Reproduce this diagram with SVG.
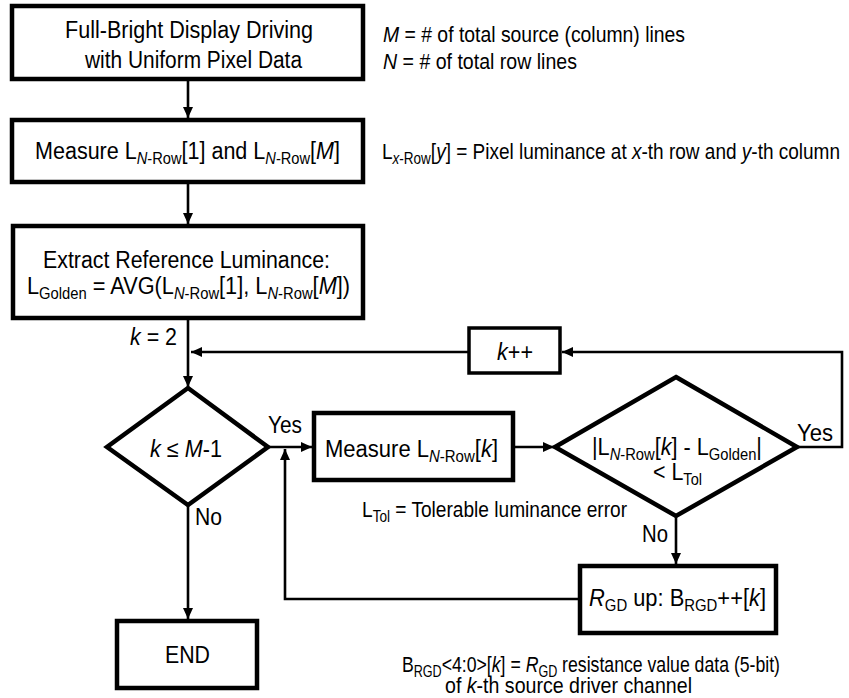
<svg xmlns="http://www.w3.org/2000/svg" width="849" height="698" viewBox="0 0 849 698">
<defs>
<style>
text{font-family:"Liberation Sans",Arial,sans-serif;font-size:23.5px;fill:#000}
.n{font-size:22.5px}
.s{font-size:16px}
.i{font-style:italic}
.box{fill:#fff;stroke:#000;stroke-width:4.5}
.thin{fill:#fff;stroke:#000;stroke-width:3.5}
.c{fill:none;stroke:#000;stroke-width:2.6}
</style>
<marker id="ah" markerUnits="userSpaceOnUse" markerWidth="12" markerHeight="10" refX="11" refY="5" orient="auto">
<path d="M0,0 L11,5 L0,10 Z" fill="#000"/>
</marker>
</defs>
<rect width="849" height="698" fill="#fff"/>

<g id="connectors">
<line class="c" x1="188" y1="80" x2="188" y2="118" marker-end="url(#ah)"/>
<line class="c" x1="188" y1="183" x2="188" y2="224" marker-end="url(#ah)"/>
<line class="c" x1="188" y1="319" x2="188" y2="387" marker-end="url(#ah)"/>
<line class="c" x1="469" y1="352" x2="191" y2="352" marker-end="url(#ah)"/>
<path class="c" d="M797,447 H842 V352 H562" marker-end="url(#ah)"/>
<line class="c" x1="268" y1="447" x2="312" y2="447" marker-end="url(#ah)"/>
<line class="c" x1="513" y1="447" x2="554" y2="447" marker-end="url(#ah)"/>
<line class="c" x1="676" y1="516" x2="676" y2="564" marker-end="url(#ah)"/>
<path class="c" d="M580,599 H285 V449" marker-end="url(#ah)"/>
<line class="c" x1="188" y1="505" x2="188" y2="619" marker-end="url(#ah)"/>
</g>

<g id="n_start">
<rect class="box" x="12" y="6" width="351" height="73"/>
<text x="65" y="38" textLength="248" lengthAdjust="spacingAndGlyphs">Full-Bright Display Driving</text>
<text x="85" y="68" textLength="217" lengthAdjust="spacingAndGlyphs">with Uniform Pixel Data</text>
</g>

<g id="n_measure_ends">
<rect class="box" x="12" y="120" width="351" height="62"/>
<text x="35" y="159" textLength="305" lengthAdjust="spacingAndGlyphs">Measure L<tspan class="s" dy="5"><tspan class="i">N</tspan>-Row</tspan><tspan dy="-5">[1] and L</tspan><tspan class="s" dy="5"><tspan class="i">N</tspan>-Row</tspan><tspan dy="-5">[<tspan class="i">M</tspan>]</tspan></text>
</g>

<g id="n_extract">
<rect class="box" x="13" y="226" width="350" height="92"/>
<text x="43" y="268" textLength="287" lengthAdjust="spacingAndGlyphs">Extract Reference Luminance:</text>
<text x="27" y="294" textLength="323" lengthAdjust="spacingAndGlyphs">L<tspan class="s" dy="5">Golden</tspan><tspan dy="-5"> = AVG(L</tspan><tspan class="s" dy="5"><tspan class="i">N</tspan>-Row</tspan><tspan dy="-5">[1], L</tspan><tspan class="s" dy="5"><tspan class="i">N</tspan>-Row</tspan><tspan dy="-5">[<tspan class="i">M</tspan>])</tspan></text>
</g>

<g id="n_kinc">
<rect class="thin" x="469" y="328" width="91" height="45"/>
<text x="497" y="360" textLength="36" lengthAdjust="spacingAndGlyphs"><tspan class="i">k</tspan>++</text>
</g>

<g id="n_cond">
<polygon class="box" points="188,388 268,447 188,505 107,447"/>
<text x="150" y="457" textLength="72" lengthAdjust="spacingAndGlyphs"><tspan class="i">k</tspan> ≤ <tspan class="i">M</tspan>-1</text>
</g>

<g id="n_measure_k">
<rect class="box" x="314" y="413" width="199" height="67"/>
<text x="325" y="457" textLength="173" lengthAdjust="spacingAndGlyphs">Measure L<tspan class="s" dy="5"><tspan class="i">N</tspan>-Row</tspan><tspan dy="-5">[<tspan class="i">k</tspan>]</tspan></text>
</g>

<g id="n_check">
<polygon class="box" points="676,377 797,447 676,516 555,447"/>
<text x="592" y="455" textLength="170" lengthAdjust="spacingAndGlyphs">|L<tspan class="s" dy="5"><tspan class="i">N</tspan>-Row</tspan><tspan dy="-5">[<tspan class="i">k</tspan>] - L</tspan><tspan class="s" dy="5">Golden</tspan><tspan dy="-5">|</tspan></text>
<text x="653" y="480" textLength="49" lengthAdjust="spacingAndGlyphs">&lt; L<tspan class="s" dy="5">Tol</tspan></text>
</g>

<g id="n_rgd">
<rect class="box" x="580" y="566" width="196" height="67"/>
<text x="589" y="606" textLength="177" lengthAdjust="spacingAndGlyphs"><tspan class="i">R</tspan><tspan class="s" dy="5">GD</tspan><tspan dy="-5"> up: B</tspan><tspan class="s" dy="5">RGD</tspan><tspan dy="-5">++[<tspan class="i">k</tspan>]</tspan></text>
</g>

<g id="n_end">
<rect class="box" x="117" y="621" width="140" height="67"/>
<text x="165" y="663" textLength="45" lengthAdjust="spacingAndGlyphs">END</text>
</g>

<g id="labels">
<text x="130" y="345" textLength="47" lengthAdjust="spacingAndGlyphs"><tspan class="i">k</tspan> = 2</text>
<text x="268" y="433" textLength="34" lengthAdjust="spacingAndGlyphs">Yes</text>
<text x="195" y="525" textLength="27" lengthAdjust="spacingAndGlyphs">No</text>
<text x="797" y="441" textLength="36" lengthAdjust="spacingAndGlyphs">Yes</text>
<text x="642" y="542" textLength="26" lengthAdjust="spacingAndGlyphs">No</text>
</g>

<g id="notes">
<text class="n" x="383" y="42" textLength="302" lengthAdjust="spacingAndGlyphs"><tspan class="i">M</tspan> = # of total source (column) lines</text>
<text class="n" x="383" y="69" textLength="194" lengthAdjust="spacingAndGlyphs"><tspan class="i">N</tspan> = # of total row lines</text>
<text class="n" x="382" y="159" textLength="458" lengthAdjust="spacingAndGlyphs">L<tspan class="s" dy="5"><tspan class="i">x</tspan>-Row</tspan><tspan dy="-5">[<tspan class="i">y</tspan>] = Pixel luminance at <tspan class="i">x</tspan>-th row and <tspan class="i">y</tspan>-th column</tspan></text>
<text class="n" x="362" y="517" textLength="265" lengthAdjust="spacingAndGlyphs">L<tspan class="s" dy="5">Tol</tspan><tspan dy="-5"> = Tolerable luminance error</tspan></text>
<text class="n" x="402" y="672" textLength="378" lengthAdjust="spacingAndGlyphs">B<tspan class="s" dy="5">RGD</tspan><tspan dy="-5">&lt;4:0&gt;[<tspan class="i">k</tspan>] = <tspan class="i">R</tspan></tspan><tspan class="s" dy="5">GD</tspan><tspan dy="-5"> resistance value data (5-bit)</tspan></text>
<text class="n" x="445" y="693" textLength="247" lengthAdjust="spacingAndGlyphs">of <tspan class="i">k</tspan>-th source driver channel</text>
</g>
</svg>
